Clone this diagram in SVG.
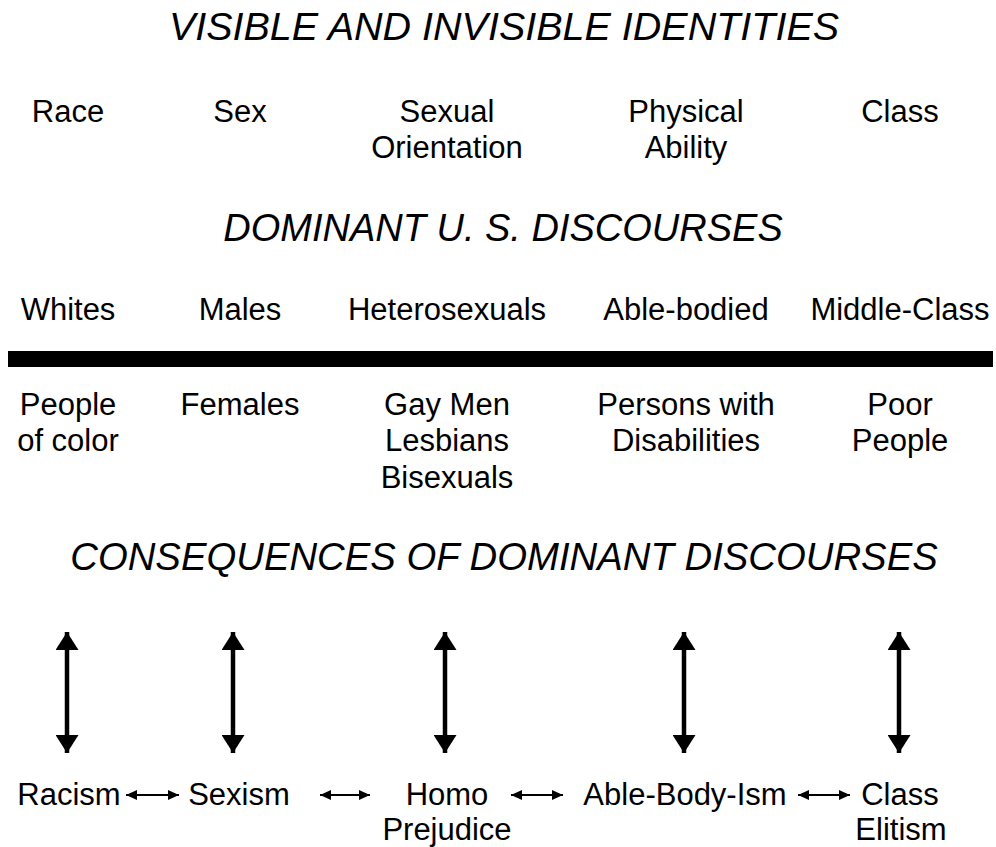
<svg xmlns="http://www.w3.org/2000/svg" width="996" height="847" viewBox="0 0 996 847">
<style>
text{font-family:"Liberation Sans",Arial,sans-serif;fill:#000;text-anchor:middle}
.title{font-size:38px;font-style:italic}
.lbl{font-size:31px}
.big{stroke:#000;stroke-width:4.5;fill:none;marker-start:url(#bigHead);marker-end:url(#bigHead)}
.small{stroke:#000;stroke-width:2;fill:none;marker-start:url(#smallHead);marker-end:url(#smallHead)}
</style>
<defs>
<marker id="bigHead" markerUnits="userSpaceOnUse" markerWidth="18" markerHeight="23" refX="18" refY="11.5" orient="auto-start-reverse" viewBox="0 0 18 23">
<path d="M0,0 L18,11.5 L0,23 z" fill="#000"/>
</marker>
<marker id="smallHead" markerUnits="userSpaceOnUse" markerWidth="11" markerHeight="10" refX="11" refY="5" orient="auto-start-reverse" viewBox="0 0 11 10">
<path d="M0,0 L11,5 L0,10 z" fill="#000"/>
</marker>
</defs>
<rect width="996" height="847" fill="#fff"/>

<g id="titles">
<text class="title" x="504" y="40" style="font-size:39.5px">VISIBLE AND INVISIBLE IDENTITIES</text>
<text class="title" x="503" y="241">DOMINANT U. S. DISCOURSES</text>
<text class="title" x="504" y="570" style="font-size:38.3px">CONSEQUENCES OF DOMINANT DISCOURSES</text>
</g>

<g id="identities">
<g id="id-race"><text class="lbl" x="68" y="122">Race</text></g>
<g id="id-sex"><text class="lbl" x="240" y="122">Sex</text></g>
<g id="id-orientation"><text class="lbl" x="447" y="122">Sexual</text><text class="lbl" x="447" y="158">Orientation</text></g>
<g id="id-ability"><text class="lbl" x="686" y="122">Physical</text><text class="lbl" x="686" y="158">Ability</text></g>
<g id="id-class"><text class="lbl" x="900" y="122">Class</text></g>
</g>

<g id="dominant">
<g id="dom-whites"><text class="lbl" x="68" y="320">Whites</text></g>
<g id="dom-males"><text class="lbl" x="240" y="320">Males</text></g>
<g id="dom-hetero"><text class="lbl" x="447" y="320">Heterosexuals</text></g>
<g id="dom-able"><text class="lbl" x="686" y="320">Able-bodied</text></g>
<g id="dom-middle"><text class="lbl" x="900" y="320">Middle-Class</text></g>
</g>

<rect id="divider" x="8" y="351" width="985" height="16" fill="#000"/>

<g id="subordinate">
<g id="sub-color"><text class="lbl" x="68" y="415">People</text><text class="lbl" x="68" y="451">of color</text></g>
<g id="sub-females"><text class="lbl" x="240" y="415">Females</text></g>
<g id="sub-glb"><text class="lbl" x="447" y="415">Gay Men</text><text class="lbl" x="447" y="451">Lesbians</text><text class="lbl" x="447" y="488">Bisexuals</text></g>
<g id="sub-disab"><text class="lbl" x="686" y="415">Persons with</text><text class="lbl" x="686" y="451">Disabilities</text></g>
<g id="sub-poor"><text class="lbl" x="900" y="415">Poor</text><text class="lbl" x="900" y="451">People</text></g>
</g>

<g id="consequences">
<g id="c-racism"><text class="lbl" x="69" y="805">Racism</text></g>
<g id="c-sexism"><text class="lbl" x="239" y="805">Sexism</text></g>
<g id="c-homo"><text class="lbl" x="447" y="805">Homo</text><text class="lbl" x="447" y="840">Prejudice</text></g>
<g id="c-able"><text class="lbl" x="685" y="805">Able-Body-Ism</text></g>
<g id="c-class"><text class="lbl" x="900" y="805">Class</text><text class="lbl" x="901" y="840">Elitism</text></g>
</g>

<g id="connectors">
<line class="big" x1="67" y1="632" x2="67" y2="753"/>
<line class="big" x1="233" y1="632" x2="233" y2="753"/>
<line class="big" x1="445" y1="632" x2="445" y2="753"/>
<line class="big" x1="684" y1="632" x2="684" y2="753"/>
<line class="big" x1="899" y1="632" x2="899" y2="753"/>
<line class="small" x1="126" y1="795" x2="179" y2="795"/>
<line class="small" x1="320" y1="795" x2="370" y2="795"/>
<line class="small" x1="511" y1="795" x2="563" y2="795"/>
<line class="small" x1="798" y1="795" x2="850" y2="795"/>
</g>
</svg>
